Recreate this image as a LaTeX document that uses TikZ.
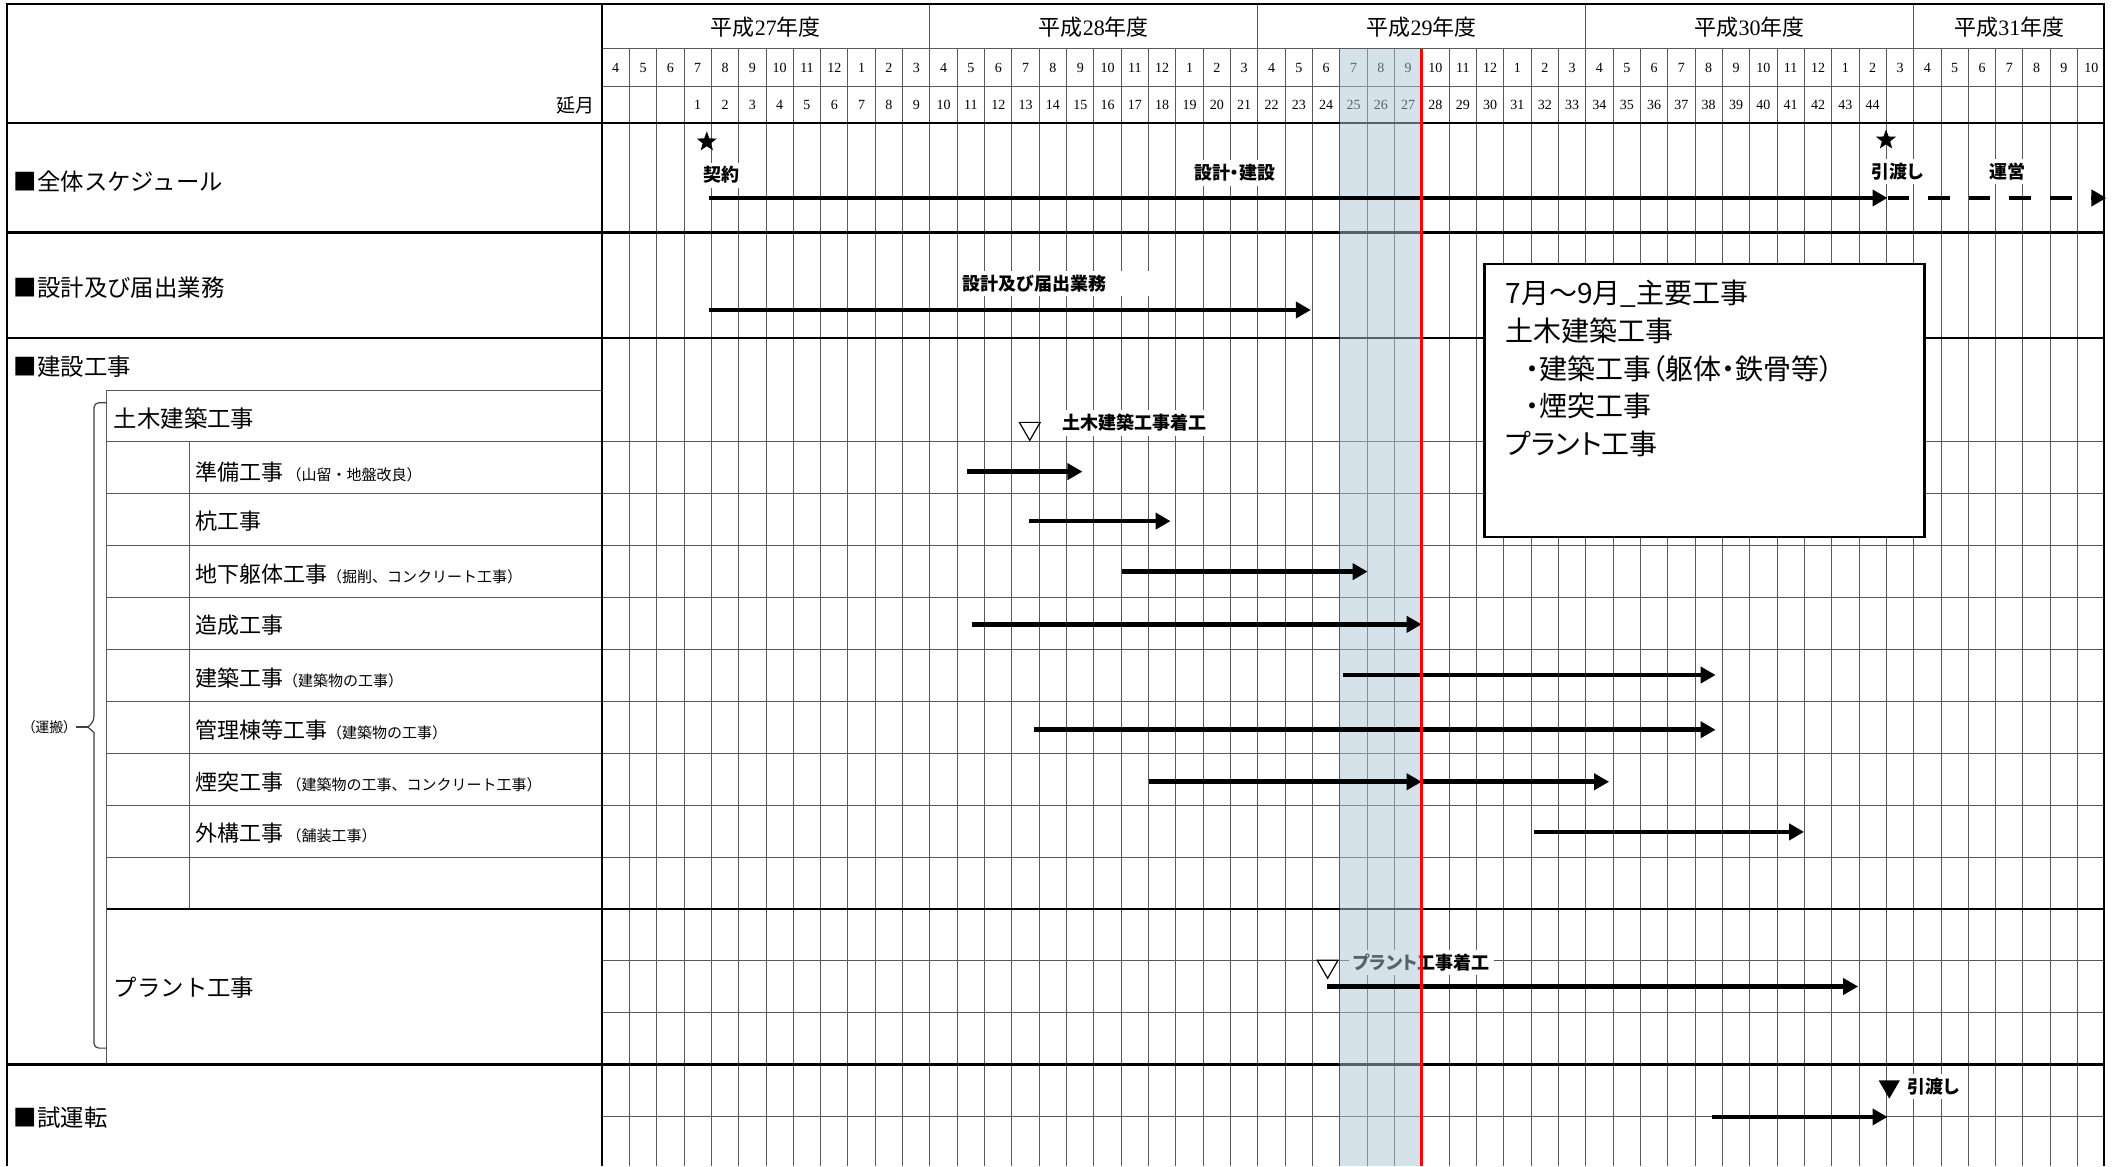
\documentclass[tikz,border=0pt]{standalone}
\usepackage{fontspec}
\setmainfont{Liberation Serif}
\newfontfamily\jp{Noto Sans CJK JP}
\newfontfamily\jpp{Noto Sans CJK JP}[RawFeature=+palt]
\usetikzlibrary{arrows.meta,shapes.geometric}

\newcommand{\smallnote}[1]{{\jp\fontsize{7.5}{8}\selectfont #1}}
\newcommand{\nendo}[1]{{\jp 平成}#1{\jp 年度}}

\tikzset{
  gridline/.style={black!65, line width=0.5pt},
  secline/.style={black, line width=1.2pt},
  ganttbar/.style={line width=2.3pt, -{Triangle[length=7.5pt,width=8pt]}},
  dashbar/.style={ganttbar, dash pattern=on 10.8pt off 9.5pt},
  flag/.style={fill=white, inner sep=2pt, font=\jpp\bfseries\fontsize{9}{10}\selectfont},
  heading/.style={anchor=west, inner sep=0pt, font=\jp\fontsize{11.7}{13}\selectfont},
  task/.style={anchor=west, inner sep=0pt, font=\jp\fontsize{11}{13}\selectfont},
  monthnum/.style={inner sep=0pt, font=\fontsize{7}{8}\selectfont},
  kirakira/.style={star, star points=5, star point ratio=2.4, fill=black, inner sep=0pt, minimum size=10.5pt},
  opentri/.style={regular polygon, regular polygon sides=3, shape border rotate=180, draw=black, line width=0.6pt, fill=white, inner sep=0pt, minimum size=12pt},
  filltri/.style={opentri, fill=black, minimum size=11pt},
}

\begin{document}
\begin{tikzpicture}[x=0.6757pt, y=-0.6757pt]
        \useasboundingbox (0,0) rectangle (1568,863);
        % Define colors for the band and the status line
        \definecolor{bandblue}{RGB}{172,198,214}
        \definecolor{nowred}{RGB}{255,0,0}

        % Draw month grid of the chart
        \foreach \m in {1,...,55}{
          \pgfmathsetmacro\xm{445.5+\m*20.22}
          \draw[gridline] (\xm,36) -- (\xm,863);
        }
        % Draw year dividers through the year row
        \foreach \m in {12,24,36,48}{
          \pgfmathsetmacro\xm{445.5+\m*20.22}
          \draw[gridline] (\xm,3) -- (\xm,36);
        }

        % Draw rows (label column and chart)
        \foreach \y in {327,365.4,403.8,442.2,480.6,519,557.4,595.8,634.2}
          \draw[gridline] (79,\y) -- (1557,\y);
        \foreach \y in {36,64,711,749.4,826.2}
          \draw[gridline] (445.5,\y) -- (1557,\y);
        \draw[gridline] (79,288.6) -- (445.5,288.6); % Top of sub-box
        \draw[gridline] (79,288.6) -- (79,787.8); % Left of sub-box
        \draw[gridline] (140.5,327) -- (140.5,672.6); % Inner column
        \draw[black, line width=0.9pt] (79,672.6) -- (1557,672.6);

        % Draw section lines and frame
        \foreach \y in {91,172,250,787.8}
          \draw[secline] (5,\y) -- (1557,\y);
        \draw[black, line width=0.8pt] (445.5,3) -- (445.5,863);
        \draw[secline] (5,863) -- (5,3) -- (1557,3) -- (1557,863);

        % Draw header texts
        \foreach \yr/\cx in {27/566.8,28/809.4,29/1052,30/1294.6,31/1486.8}
          \node[font=\fontsize{11}{13}\selectfont] (yr\yr) at (\cx,20) {\nendo{\yr}};
        \foreach \yr in {0,...,4}{
          \foreach \k in {0,...,11}{
            \pgfmathtruncatemacro\m{12*\yr+\k}
            \pgfmathtruncatemacro\mon{mod(\k+3,12)+1}
            \pgfmathsetmacro\cx{445.5+(\m+0.5)*20.22}
            \ifnum\m<55
              \node[monthnum] (mon\m) at (\cx,50) {\mon};
            \fi
            \ifnum\m>2 \ifnum\m<47
              \pgfmathtruncatemacro\nobe{\m-2}
              \node[monthnum] (nobe\m) at (\cx,77.5) {\nobe};
            \fi\fi
          }
        }
        \node[anchor=east, inner sep=0pt, font=\jp\fontsize{9.5}{10}\selectfont] (nobetsuki) at (440,78) {延月};

        % Draw label column
        \node[heading] (zentai) at (10,134.6) {■全体スケジュール};
        \node[heading] (sekkei) at (10,213) {■設計及び届出業務};
        \node[heading] (kensetsu) at (10,271.5) {■建設工事};
        \node[heading] (doboku) at (84,309.5) {土木建築工事};
        \node[heading] (plant) at (84,731) {プラント工事};
        \node[heading] (shiunten) at (10,827) {■試運転};
        \foreach \nm/\y/\txt in {
            junbi/349/{準備工事\,\smallnote{（山留・地盤改良）}},
            kui/386/{杭工事},
            chika/425/{地下躯体工事\smallnote{（掘削、コンクリート工事）}},
            zosei/462.5/{造成工事},
            kenchiku/502/{建築工事\smallnote{（建築物の工事）}},
            kanri/540/{管理棟等工事\smallnote{（建築物の工事）}},
            entotsu/578.7/{煙突工事\,\smallnote{（建築物の工事、コンクリート工事）}},
            gaiko/616.6/{外構工事\,\smallnote{（舗装工事）}}}
          \node[task] (\nm) at (144,\y) {\txt};

        % Draw brace for the sub-box
        \draw[black!75, line width=0.6pt, rounded corners=2.5pt] (79,298) -- (69.5,298) -- (69.5,534)
          [sharp corners] -- (65,538) -- (69.5,542) [rounded corners=2.5pt] -- (69.5,775.6) -- (79,775.6);
        \coordinate (brace-tip) at (65,538);
        \node[font=\jpp\fontsize{7}{8}\selectfont, inner sep=0pt] (unpan) at (36.5,538) {（運搬）};
        \draw[black!75, line width=0.6pt] (56.5,538) -- (brace-tip);

        % Draw labels inside the chart
        \node[flag] (keiyaku-lbl) at (533.8,129.6) {契約};
        \node[flag] (kensetsu-lbl) at (913.5,128) {設計・建設};
        \node[flag] (hikiwatashi-lbl) at (1403.7,127) {引渡し};
        \node[flag] (unei-lbl) at (1485.7,127) {運営};
        \node[flag, anchor=west, text width=104pt] (todoke-lbl) at (709,209.6) {設計及び届出業務};
        \node[flag] (dobokuchakko-lbl) at (839.3,313) {土木建築工事着工};
        \node[flag] (plantchakko-lbl) at (1052,712) {プラント工事着工};
        \node[flag] (shiunten-lbl) at (1431,804) {引渡し};

        % Draw shaded band (7-9)
        \fill[bandblue, opacity=0.5] (991.4,36) rectangle (1052.1,863);

        % Draw milestones
        \node[kirakira] (star-keiyaku) at (523,105) {};
        \node[kirakira] (star-hikiwatashi) at (1395.6,103.6) {};
        \node[opentri] (tri-doboku) at (762,317) {};
        \node[opentri] (tri-plant) at (982.4,715) {};
        \node[filltri] (tri-shiunten) at (1398,804) {};

        % Draw schedule bars
        \coordinate (keiyaku) at (524.7,146.5);
        \coordinate (hikiwatashi) at (1396.7,146.5);
        \coordinate (unei-end) at (1558.7,146.5);
        \draw[ganttbar] (keiyaku) -- (hikiwatashi);
        \draw[dashbar] (hikiwatashi) -- (unei-end);
        \foreach \nm/\y/\xs/\xe in {todoke/229.4/524.7/970, junbi/349/715.6/801, kui/385.6/761.6/866.2,
            chika/423/830/1012, zosei/462/719/1052, kenchiku/499.5/994/1269.5, kanri/540/765/1269.5,
            entotsu/578.5/850/1052, gaiko/615.6/1135/1335, plant/730/981.6/1375, shiunten/826.5/1266.7/1396.7}{
          \coordinate (\nm-s) at (\xs,\y);
          \coordinate (\nm-e) at (\xe,\y);
          \draw[ganttbar] (\nm-s) -- (\nm-e);
        }
        \coordinate (entotsu2-e) at (1190.7,578.5);
        \draw[ganttbar] (entotsu-e) -- (entotsu2-e);

        % Draw note box
        \node[draw=black, line width=1.2pt, fill=white, anchor=north west, minimum width=219.9pt, minimum height=136.6pt] (shuyou) at (1097.6,194.4) {};
        \node[anchor=north west, inner sep=0pt, align=left, font=\jpp\fontsize{14}{18.85}\selectfont] (shuyou-txt) at (1113.7,207) {%
          7月～9月\_主要工事\\
          土木建築工事\\
          \hspace*{0.7em}・建築工事（躯体・鉄骨等）\\
          \hspace*{0.7em}・煙突工事\\
          プラント工事};

        % Draw status line
        \draw[nowred, line width=1.5pt] (1052.1,36) -- (1052.1,863);
\end{tikzpicture}
\end{document}
